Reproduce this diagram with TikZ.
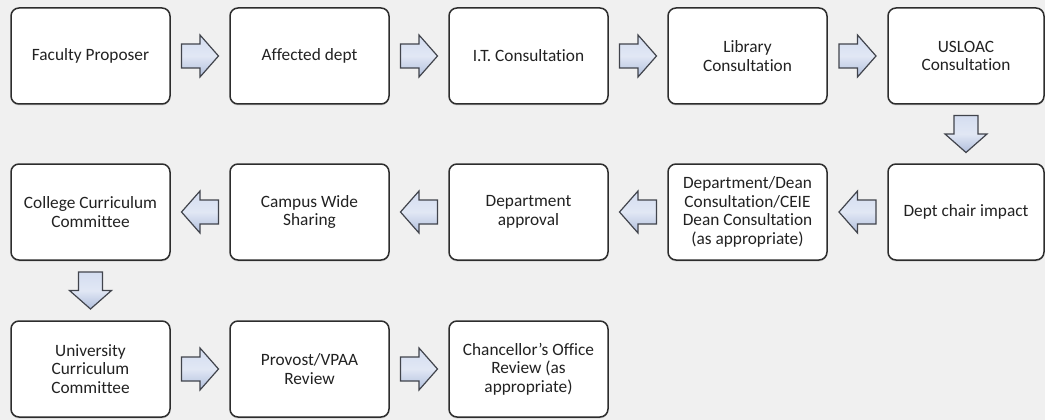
\documentclass[tikz,border=0pt]{standalone}
\usepackage{fontspec}
\setmainfont{Carlito}[Ligatures=NoCommon]
\usetikzlibrary{calc,shadows}
\definecolor{pagebg}{RGB}{240,240,240}
\definecolor{boxline}{RGB}{45,45,45}
\definecolor{txt}{RGB}{34,34,34}
\definecolor{arrowline}{RGB}{65,68,76}
\definecolor{arrowtop}{RGB}{212,221,240}
\definecolor{arrowbot}{RGB}{176,190,220}
\tikzset{
  stepbox/.style={draw=boxline, line width=1.5pt, fill=white, rounded corners=8pt,
    minimum width=159pt, minimum height=96pt, align=center, text=txt,
    font=\fontsize{17.3pt}{18.5pt}\selectfont, inner sep=2pt,
    drop shadow={opacity=0.25, shadow xshift=0pt, shadow yshift=-1.5pt}},
  narrowbox/.style={stepbox, minimum width=156pt},
  blockarrow/.style={draw=arrowline, line width=1.2pt, line join=miter,
    top color=arrowtop, bottom color=arrowbot, middle color=arrowtop!70!white}
}
% block arrow centred between two anchors, pointing at angle #3
\newcommand\flowarrow[3]{%
  \begin{scope}[shift={($(#1)!0.5!(#2)$)}, rotate=#3]
    \draw[blockarrow] (-18.5,-12) -- (0,-12) -- (0,-21) -- (18.5,0) -- (0,21)
      -- (0,12) -- (-18.5,12) -- cycle;
  \end{scope}}
\begin{document}
\begin{tikzpicture}[x=1pt,y=1pt]
  \fill[pagebg] (0,0) rectangle (1045,-420);
  \useasboundingbox (0,0) rectangle (1045,-420);

  % first row, left to right
  \node[stepbox]   (fac)  at (90.5,-56)  {Faculty Proposer};
  \node[stepbox]   (aff)  at (309.5,-56) {Affected dept};
  \node[stepbox]   (it)   at (528.5,-56) {I.T. Consultation};
  \node[stepbox]   (lib)  at (747.5,-56) {Library\\Consultation};
  \node[narrowbox] (usl)  at (966,-56)   {USLOAC\\Consultation};

  % second row, right to left
  \node[narrowbox] (chair) at (966,-212)   {Dept chair impact};
  \node[stepbox]   (dean)  at (747.5,-212) {Department/Dean\\Consultation/CEIE\\Dean Consultation\\(as appropriate)};
  \node[stepbox]   (dapp)  at (528.5,-212) {Department\\approval};
  \node[stepbox]   (camp)  at (309.5,-212) {Campus Wide\\Sharing};
  \node[stepbox]   (coll)  at (90.5,-212)  {College Curriculum\\Committee};

  % third row, left to right
  \node[stepbox]   (univ)  at (90.5,-369)  {University\\Curriculum\\Committee};
  \node[stepbox]   (prov)  at (309.5,-369) {Provost/VPAA\\Review};
  \node[stepbox]   (chan)  at (528.5,-369) {Chancellor’s Office\\Review (as\\appropriate)};

  \flowarrow{fac.east}{aff.west}{0}
  \flowarrow{aff.east}{it.west}{0}
  \flowarrow{it.east}{lib.west}{0}
  \flowarrow{lib.east}{usl.west}{0}
  \flowarrow{usl.south}{chair.north}{-90}
  \flowarrow{chair.west}{dean.east}{180}
  \flowarrow{dean.west}{dapp.east}{180}
  \flowarrow{dapp.west}{camp.east}{180}
  \flowarrow{camp.west}{coll.east}{180}
  \flowarrow{coll.south}{univ.north}{-90}
  \flowarrow{univ.east}{prov.west}{0}
  \flowarrow{prov.east}{chan.west}{0}
\end{tikzpicture}
\end{document}
